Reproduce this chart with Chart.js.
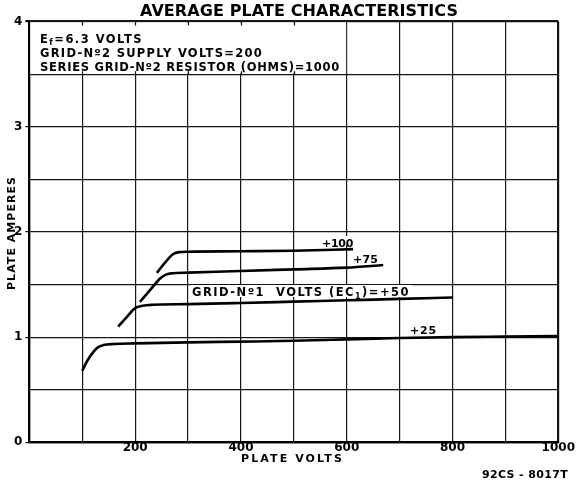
<!DOCTYPE html>
<html><head><meta charset="utf-8">
<script src="https://cdn.jsdelivr.net/npm/chart.js@4.4.1/dist/chart.umd.min.js"></script>
<style>html,body{margin:0;padding:0;background:#fff}canvas{display:block}</style>
</head><body>
<canvas id="c" width="577" height="480"></canvas>
<script>
// ---- data ----
const titleText = 'AVERAGE PLATE CHARACTERISTICS';
const xTitle = 'PLATE VOLTS';
const yTitle = 'PLATE AMPERES';
const figCode = '92CS - 8017T';
const boxLine1 = [['E'], ['f', 'sub'], ['=6.3 VOLTS']];
const boxLine2 = [['GRID-Nº2 SUPPLY VOLTS=200']];
const boxLine3 = [['SERIES GRID-Nº2 RESISTOR (OHMS)=1000']];
const curveLabels = ['+100', '+75', '+25'];
const label50 = [['GRID-Nº1  VOLTS (EC'], ['1', 'sub'], [')=+50']];

const xMin = 0, xMax = 1000, xStep = 100;
const yMin = 0, yMax = 4, yStep = 0.5;

const v25 = [100, 110, 121, 130, 140, 160, 200, 300, 400, 500, 600, 700, 800, 900, 1000];
const i25 = [0.68, 0.78, 0.86, 0.905, 0.924, 0.934, 0.94, 0.95, 0.957, 0.965, 0.978, 0.992, 1.0, 1.005, 1.01];

const v50 = [168, 184, 200, 214, 232, 300, 400, 500, 600, 700, 800];
const i50 = [1.10, 1.19, 1.275, 1.298, 1.307, 1.313, 1.324, 1.337, 1.35, 1.363, 1.377];

const v75 = [209, 228, 247, 257, 268, 300, 400, 500, 600, 669];
const i75 = [1.335, 1.446, 1.557, 1.592, 1.606, 1.613, 1.628, 1.644, 1.66, 1.685];

const v100 = [241, 256, 272, 283, 300, 400, 500, 612];
const i100 = [1.611, 1.705, 1.79, 1.808, 1.812, 1.816, 1.821, 1.836];

// ---- helpers ----
const FAM = '"DejaVu Sans", sans-serif';
function pts(vs, is) { return vs.map((v, k) => ({ x: v, y: is[k] })); }

function drawRich(ctx, segs, x, base, width, size) {
  const main = 'bold ' + size + 'px ' + FAM;
  const sub = 'bold ' + Math.round(size * 0.72) + 'px ' + FAM;
  ctx.letterSpacing = '0px';
  let nat = 0, n = 0;
  segs.forEach(s => { ctx.font = s[1] ? sub : main; nat += ctx.measureText(s[0]).width; n += s[0].length; });
  const ls = width ? (width - nat) / n : 0;
  let cx = x;
  segs.forEach(s => {
    ctx.font = s[1] ? sub : main;
    ctx.letterSpacing = '0px';
    const w = ctx.measureText(s[0]).width;
    ctx.letterSpacing = ls + 'px';
    ctx.fillText(s[0], cx, s[1] ? base + size * 0.25 : base);
    cx += w + ls * s[0].length;
  });
  ctx.letterSpacing = '0px';
}

const annot = {
  id: 'annot',
  beforeDatasetsDraw(chart) {
    const { ctx, scales: { x, y } } = chart;
    ctx.save();
    // white header box in the upper left
    const bx0 = x.getPixelForValue(0), bx1 = x.getPixelForValue(600);
    const by0 = y.getPixelForValue(4), by1 = y.getPixelForValue(3.5);
    ctx.fillStyle = '#fff';
    ctx.fillRect(bx0 + 1, by0 + 1, bx1 - bx0 - 1.6, by1 - by0 - 1.6);
    ctx.strokeStyle = '#111';
    ctx.lineWidth = 1.2;
    for (let v = 100; v < 600; v += 100) {
      const px = Math.round(x.getPixelForValue(v)) + 0.5;
      ctx.beginPath(); ctx.moveTo(px, by0); ctx.lineTo(px, by0 + 4); ctx.stroke();
      ctx.beginPath(); ctx.moveTo(px, by1 - 3); ctx.lineTo(px, by1); ctx.stroke();
    }
    ctx.fillStyle = '#000';
    ctx.textBaseline = 'alphabetic';
    ctx.textAlign = 'left';
    drawRich(ctx, boxLine1, 40, 42.5, 103, 11.5);
    drawRich(ctx, boxLine2, 40, 56.8, 223, 11.5);
    drawRich(ctx, boxLine3, 40, 71, 300, 11.5);
    // white backgrounds for curve labels
    ctx.fillStyle = '#fff';
    ctx.fillRect(190, 285, 222, 12);
    ctx.fillRect(320, 236, 35, 9);
    ctx.fillRect(351, 252, 29, 10);
    ctx.restore();
  },
  afterDatasetsDraw(chart) {
    const { ctx } = chart;
    ctx.save();
    ctx.fillStyle = '#000';
    ctx.textAlign = 'left';
    ctx.textBaseline = 'alphabetic';
    drawRich(ctx, [[curveLabels[0]]], 322, 246.5, 31, 11);
    drawRich(ctx, [[curveLabels[1]]], 353, 262.5, 25, 11);
    drawRich(ctx, label50, 192, 296, 218, 11.5);
    drawRich(ctx, [[curveLabels[2]]], 410, 333.5, 27, 11);
    // title
    drawRich(ctx, [[titleText]], 140, 15.5, 318, 16);
    // axis titles
    drawRich(ctx, [[xTitle]], 241, 461.5, 103, 11);
    drawRich(ctx, [[figCode]], 482, 478, 86, 11);
    ctx.translate(15, 233);
    ctx.rotate(-Math.PI / 2);
    drawRich(ctx, [[yTitle]], -57, 0, 114, 11);
    ctx.restore();
  }
};

const edgeW = (max) => (c) => (c.tick && c.tick.value === max ? 2.2 : 1.2);

const lineDs = (data) => ({
  data, borderColor: '#000', borderWidth: 2.6, pointRadius: 0,
  cubicInterpolationMode: 'monotone', fill: false
});

new Chart(document.getElementById('c'), {
  type: 'line',
  data: {
    datasets: [
      lineDs(pts(v25, i25)),
      lineDs(pts(v50, i50)),
      lineDs(pts(v75, i75)),
      lineDs(pts(v100, i100))
    ]
  },
  options: {
    responsive: false,
    animation: false,
    devicePixelRatio: 1,
    layout: { padding: { top: 21.5, left: 0, right: 18.7, bottom: 0 } },
    plugins: { legend: { display: false }, tooltip: { enabled: false }, title: { display: false } },
    scales: {
      x: {
        type: 'linear', min: xMin, max: xMax,
        afterFit(s) { s.height = 37.7; },
        border: { display: true, color: '#000', width: 2.2 },
        grid: { color: '#151515', lineWidth: edgeW(xMax), drawTicks: false },
        ticks: {
          stepSize: xStep, autoSkip: false, maxRotation: 0, padding: 0,
          color: '#000', font: { family: FAM, weight: 'bold', size: 12, lineHeight: 1 },
          callback: (v) => (v % 200 === 0 && v !== 0 ? String(v) : '')
        }
      },
      y: {
        type: 'linear', min: yMin, max: yMax,
        afterFit(s) { s.width = 29.4; },
        border: { display: true, color: '#000', width: 2.2 },
        grid: {
          color: '#151515', lineWidth: edgeW(yMax), drawTicks: true, tickLength: 4,
          tickColor: (c) => (c.tick && Number.isInteger(c.tick.value) ? '#000' : 'rgba(0,0,0,0)')
        },
        ticks: {
          stepSize: yStep, padding: 3, color: '#000',
          font: { family: FAM, weight: 'bold', size: 12 },
          callback: (v) => (Number.isInteger(v) ? String(v) : '')
        }
      }
    }
  },
  plugins: [annot]
});
</script>
</body></html>
